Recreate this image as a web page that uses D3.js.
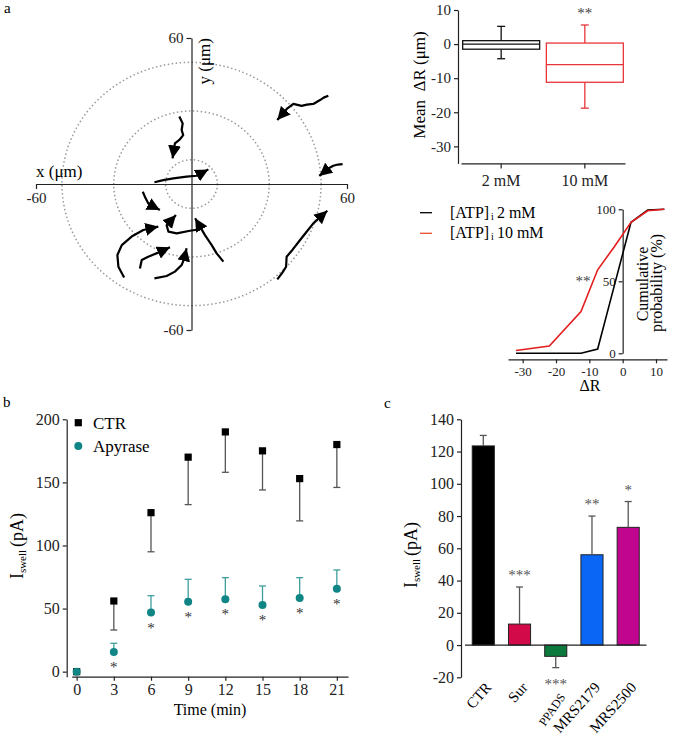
<!DOCTYPE html>
<html>
<head>
<meta charset="utf-8">
<script src="https://d3js.org/d3.v7.min.js"></script>
<style>
  body { margin: 0; background: #fff; }
  svg { font-family: "Liberation Serif", "Times New Roman", serif; }
  .axis path, .axis line { stroke: #222; stroke-width: 1.2; }
  .axis text { fill: #222; font-family: "Liberation Serif", serif; }
</style>
</head>
<body>
<div id="chart"></div>
<script>
// ---- panel a: cell tracks (x, y in µm), last point is the arrow tip ----
const tracks = [
  [[52.8,36.3],[51,35.5],[49.6,34.5],[47.0,32.9],[44.5,32.6],[42.5,32.1],[39.3,32.9],[37.0,31.1],[33.1,26.3]],
  [[58.3,8.2],[56.5,8.0],[54.7,7.5],[52.8,6.4],[49.3,3.3]],
  [[33.1,-39.2],[35,-36.5],[36.5,-34.0],[36.7,-29.9],[39,-27],[41.9,-23.0],[44.5,-19.5],[47.0,-16.2],[52.4,-11.0]],
  [[-4.7,27.7],[-3.4,24.9],[-3.8,22.2],[-3.2,20.1],[-4.7,18.1],[-6.4,16.7],[-7.3,10.5]],
  [[-14.3,0.7],[-10.9,1.6],[-7.0,2.3],[-1.9,3.0],[2.0,3.4],[6.5,6.0]],
  [[-18.8,-3.2],[-17.7,-5.9],[-16.7,-7.9],[-14.7,-9.3],[-12.2,-10.7]],
  [[12.3,-31.9],[9.7,-28.5],[7.8,-25.1],[5.2,-21.0],[1.4,-14.1]],
  [[3.3,-18.6],[-0.6,-19.2],[-5.7,-20.3],[-8.9,-19.6],[-9.6,-16.9],[-6.0,-12.7]],
  [[-26.0,-38.4],[-28.2,-34.0],[-28.6,-29.2],[-26.9,-25.1],[-23.1,-21.6],[-18.6,-18.9],[-12.8,-17.5]],
  [[-19.9,-34.7],[-19.2,-31.2],[-16.7,-29.9],[-12.8,-28.2],[-8.3,-26.0]],
  [[-14.3,-38.8],[-9.6,-37.8],[-6.4,-36.0],[-3.8,-33.3],[-2.8,-30.6],[-1.9,-26.4]]
];
const rings = [10, 30, 50];

// ---- panel a: box plot of mean ΔR ----
const boxGroups = ["2 mM", "10 mM"];
const boxLow = [-4.3, -18.8];
const boxQ1 = [-1.5, -11.2];
const boxMedian = [0, -6];
const boxQ3 = [1.0, 0.3];
const boxHigh = [5.2, 5.6];
const boxColors = ["#111", "#e8353a"];

// ---- panel a: cumulative distribution ----
const cumBins = [-32, -22, -12.5, -7.5, -2.5, 2.5, 7.5, 12.5];
const cum2mM = [0, 0, 0, 3, 47, 91, 99.5, 100];
const cum10mM = [2, 5, 29, 58, 74, 91, 99, 100];

// ---- panel b: Iswell over time ----
const times = [0, 3, 6, 9, 12, 15, 18, 21];
const ctrMean = [0, 56, 126, 170, 190, 175, 153, 180];
const ctrSem = [0, 23, 31, 37.6, 32, 31, 33.5, 34];
const apyMean = [0, 15.6, 46.8, 55.5, 57.4, 52.8, 58.4, 65.8];
const apySem = [0, 6.9, 13.4, 17.7, 17.1, 15.1, 16.1, 14.8];

// ---- panel c: blockers ----
const drugs = ["CTR", "Sur", "PPADS", "MRS2179", "MRS2500"];
const drugMean = [123.5, 13, -7, 56, 73];
const drugSem = [6.5, 23, 7, 24, 16];
const drugStars = ["", "***", "***", "**", "*"];
const drugColors = ["#000000", "#d20a4a", "#0d7a3d", "#0a66f5", "#c1058e"];

const teal = "#108585";
const tealErr = "#3f9e9e";

const svg = d3.select("#chart").append("svg")
  .attr("width", 675).attr("height", 736);

svg.append("defs").append("marker")
  .attr("id", "arrow")
  .attr("markerUnits", "userSpaceOnUse")
  .attr("markerWidth", 15).attr("markerHeight", 14)
  .attr("refX", 13).attr("refY", 6.5)
  .attr("orient", "auto")
  .append("path").attr("d", "M0,0 L13,6.5 L0,13 z").attr("fill", "#000");

function panelLabel(t, x, y) {
  svg.append("text").attr("x", x).attr("y", y).attr("font-size", 15).text(t);
}
panelLabel("a", 4, 13);
panelLabel("b", 3, 407);
panelLabel("c", 384, 408);

// ================= panel a: polar tracks =================
const xP = d3.scaleLinear().domain([-60, 60]).range([36, 347]);
const yP = d3.scaleLinear().domain([-60, 60]).range([330, 38]);

const gPolar = svg.append("g");
gPolar.selectAll("ellipse").data(rings).join("ellipse")
  .attr("cx", xP(0)).attr("cy", yP(0))
  .attr("rx", d => xP(d) - xP(0)).attr("ry", d => yP(0) - yP(d))
  .attr("fill", "none").attr("stroke", "#999")
  .attr("stroke-width", 1.5).attr("stroke-dasharray", "1.5,2.5");

gPolar.append("g").attr("class", "axis")
  .attr("transform", `translate(0,${yP(0)})`)
  .call(d3.axisBottom(xP).tickValues([-60, 60]).tickSize(5).tickSizeOuter(0).tickFormat(d => String(d)))
  .selectAll("text").attr("font-size", 15);
gPolar.append("g").attr("class", "axis")
  .attr("transform", `translate(${xP(0)},0)`)
  .call(d3.axisLeft(yP).tickValues([-60, 60]).tickSize(5).tickSizeOuter(0).tickFormat(d => String(d)))
  .selectAll("text").attr("font-size", 15);

gPolar.append("text").attr("x", 36).attr("y", 177).attr("font-size", 17).text("x (μm)");
gPolar.append("text").attr("transform", `translate(210,38) rotate(-90)`)
  .attr("text-anchor", "end").attr("font-size", 17).text("y (μm)");

const trackLine = d3.line().x(d => xP(d[0])).y(d => yP(d[1]));
gPolar.selectAll("path.track").data(tracks).join("path")
  .attr("class", "track")
  .attr("d", trackLine)
  .attr("fill", "none").attr("stroke", "#000").attr("stroke-width", 2.2)
  .attr("stroke-linejoin", "round")
  .attr("marker-end", "url(#arrow)");

// ================= panel a: box plot =================
const xB = d3.scaleBand().domain(boxGroups).range([461, 625]).paddingInner(0.08).paddingOuter(0.02);
const yB = d3.scaleLinear().domain([-35, 10]).range([163.4, 10]);

const gBox = svg.append("g");
gBox.append("g").attr("class", "axis")
  .attr("transform", "translate(458,0)")
  .call(d3.axisLeft(yB).tickValues([10, 0, -10, -20, -30]).tickSize(4).tickSizeOuter(0).tickFormat(d => String(d)))
  .selectAll("text").attr("font-size", 15);
gBox.append("g").attr("class", "axis")
  .attr("transform", `translate(0,${yB(-35)})`)
  .call(d3.axisBottom(xB).tickSize(5).tickSizeOuter(0))
  .selectAll("text").attr("font-size", 16).attr("dy", "0.9em");

boxGroups.forEach((g, i) => {
  const x0 = xB(g), w = xB.bandwidth(), cx = x0 + w / 2, c = boxColors[i];
  const gg = gBox.append("g").attr("stroke", c).attr("stroke-width", 1.3).attr("fill", "none");
  gg.append("rect").attr("x", x0).attr("y", yB(boxQ3[i]))
    .attr("width", w).attr("height", yB(boxQ1[i]) - yB(boxQ3[i]));
  gg.append("line").attr("x1", x0).attr("x2", x0 + w).attr("y1", yB(boxMedian[i])).attr("y2", yB(boxMedian[i]));
  gg.append("line").attr("x1", cx).attr("x2", cx).attr("y1", yB(boxQ3[i])).attr("y2", yB(boxHigh[i]));
  gg.append("line").attr("x1", cx).attr("x2", cx).attr("y1", yB(boxQ1[i])).attr("y2", yB(boxLow[i]));
  gg.append("line").attr("x1", cx - 4).attr("x2", cx + 4).attr("y1", yB(boxHigh[i])).attr("y2", yB(boxHigh[i]));
  gg.append("line").attr("x1", cx - 4).attr("x2", cx + 4).attr("y1", yB(boxLow[i])).attr("y2", yB(boxLow[i]));
});
gBox.append("text").attr("x", xB("10 mM") + xB.bandwidth() / 2).attr("y", 18)
  .attr("text-anchor", "middle").attr("font-size", 15).attr("fill", "#444").text("**");
gBox.append("text").attr("transform", "translate(425,85) rotate(-90)")
  .attr("text-anchor", "middle").attr("font-size", 17).text("Mean\u00a0 ΔR (μm)");

// ================= panel a: cumulative =================
const xC = d3.scaleLinear().domain([-34.4, 13.3]).range([508, 667]);
const yC = d3.scaleLinear().domain([0, 100]).range([353.3, 209.3]);

const gCum = svg.append("g");
gCum.append("g").attr("class", "axis")
  .attr("transform", `translate(0,359.3)`)
  .call(d3.axisBottom(xC).tickValues([-30, -20, -10, 0, 10]).tickSize(4).tickSizeOuter(0).tickFormat(d => String(d)))
  .selectAll("text").attr("font-size", 13);
gCum.append("g").attr("class", "axis")
  .attr("transform", `translate(${xC(0)},0)`)
  .call(d3.axisLeft(yC).tickValues([0, 50, 100]).tickSize(4).tickSizeOuter(0))
  .selectAll("text").attr("font-size", 13);

const cumLine = d3.line().x((d, i) => xC(cumBins[i])).y(d => yC(d));
gCum.append("path").attr("d", cumLine(cum2mM)).attr("fill", "none").attr("stroke", "#000").attr("stroke-width", 1.6);
gCum.append("path").attr("d", cumLine(cum10mM)).attr("fill", "none").attr("stroke", "#e41e1e").attr("stroke-width", 1.6);
gCum.append("text").attr("x", 583).attr("y", 286).attr("text-anchor", "middle")
  .attr("font-size", 15).attr("fill", "#444").text("**");
gCum.append("text").attr("x", 590).attr("y", 391).attr("text-anchor", "middle").attr("font-size", 16).text("ΔR");
gCum.append("text").attr("transform", "translate(648,284) rotate(-90)")
  .attr("text-anchor", "middle").attr("font-size", 16).text("Cumulative");
gCum.append("text").attr("transform", "translate(662,283) rotate(-90)")
  .attr("text-anchor", "middle").attr("font-size", 16).text("probability (%)");

const legendA = [["2 mM", "#000", 212.7], ["10 mM", "#e8502a", 233.3]];
legendA.forEach(([lab, col, y]) => {
  gCum.append("line").attr("x1", 420).attr("x2", 432).attr("y1", y).attr("y2", y)
    .attr("stroke", col).attr("stroke-width", 1.3);
  const t = gCum.append("text").attr("x", 450).attr("y", y + 5).attr("font-size", 16);
  t.append("tspan").text("[ATP]");
  t.append("tspan").attr("font-size", 10).attr("dy", 2).attr("dx", 2).text("i");
  t.append("tspan").attr("dy", -2).attr("dx", 3).text(lab);
});

// ================= panel b =================
const xT = d3.scaleLinear().domain([-0.4, 21.9]).range([71.7, 348]);
const yI = d3.scaleLinear().domain([-4, 200]).range([676.7, 419.3]);

const gB = svg.append("g");
gB.append("g").attr("class", "axis")
  .attr("transform", "translate(66.7,0)")
  .call(d3.axisLeft(yI).tickValues([0, 50, 100, 150, 200]).tickSize(4).tickSizeOuter(0))
  .selectAll("text").attr("font-size", 16);
gB.append("g").attr("class", "axis")
  .attr("transform", `translate(0,${yI(-4)})`)
  .call(d3.axisBottom(xT).tickValues(times).tickSize(4).tickSizeOuter(0))
  .selectAll("text").attr("font-size", 16);
gB.append("text").attr("x", 210).attr("y", 715).attr("text-anchor", "middle").attr("font-size", 16).text("Time (min)");

function swellLabel(g, x, y) {
  const t = g.append("text").attr("transform", `translate(${x},${y}) rotate(-90)`)
    .attr("text-anchor", "middle").attr("font-size", 18);
  t.append("tspan").text("I");
  t.append("tspan").attr("font-size", 11).attr("dy", 3).text("swell");
  t.append("tspan").attr("dy", -3).attr("dx", 3).text("(pA)");
}
swellLabel(gB, 23, 546);

// error bars: CTR downwards, apyrase upwards
times.forEach((t, i) => {
  if (ctrSem[i] > 0) {
    const x = xT(t), y0 = yI(ctrMean[i]), y1 = yI(ctrMean[i] - ctrSem[i]);
    gB.append("line").attr("x1", x).attr("x2", x).attr("y1", y0).attr("y2", y1).attr("stroke", "#555").attr("stroke-width", 1.3);
    gB.append("line").attr("x1", x - 3.5).attr("x2", x + 3.5).attr("y1", y1).attr("y2", y1).attr("stroke", "#555").attr("stroke-width", 1.3);
  }
  if (apySem[i] > 0) {
    const x = xT(t), y0 = yI(apyMean[i]), y1 = yI(apyMean[i] + apySem[i]);
    gB.append("line").attr("x1", x).attr("x2", x).attr("y1", y0).attr("y2", y1).attr("stroke", tealErr).attr("stroke-width", 1.3);
    gB.append("line").attr("x1", x - 3.5).attr("x2", x + 3.5).attr("y1", y1).attr("y2", y1).attr("stroke", tealErr).attr("stroke-width", 1.3);
  }
});
gB.selectAll("rect.ctr").data(times).join("rect").attr("class", "ctr")
  .attr("x", d => xT(d) - 3.6).attr("y", (d, i) => yI(ctrMean[i]) - 3.6)
  .attr("width", 7.2).attr("height", 7.2).attr("fill", "#000");
gB.selectAll("circle.apy").data(times).join("circle").attr("class", "apy")
  .attr("cx", d => xT(d)).attr("cy", (d, i) => yI(apyMean[i])).attr("r", 4)
  .attr("fill", teal);
gB.selectAll("text.star").data(times.slice(1)).join("text").attr("class", "star")
  .attr("x", d => xT(d)).attr("y", (d, i) => yI(apyMean[i + 1]) + 20)
  .attr("text-anchor", "middle").attr("font-size", 15).attr("fill", "#333").text("*");

// legend b
gB.append("rect").attr("x", 74.7).attr("y", 419.1).attr("width", 7.2).attr("height", 7.2).attr("fill", "#000");
gB.append("text").attr("x", 93).attr("y", 428.5).attr("font-size", 17).text("CTR");
gB.append("circle").attr("cx", 78.3).attr("cy", 446).attr("r", 4).attr("fill", teal);
gB.append("text").attr("x", 93).attr("y", 451.5).attr("font-size", 17).text("Apyrase");

// ================= panel c =================
const xD = d3.scaleBand().domain(drugs).range([465, 646.5]).paddingInner(0.39).paddingOuter(0.2);
const yD = d3.scaleLinear().domain([-20, 140]).range([677.3, 419.3]);

const gC = svg.append("g");
gC.append("g").attr("class", "axis")
  .attr("transform", "translate(461,0)")
  .call(d3.axisLeft(yD).tickValues(d3.range(-20, 141, 20)).tickSize(4).tickSizeOuter(0).tickFormat(d => String(d)))
  .selectAll("text").attr("font-size", 16);

gC.selectAll("rect.bar").data(drugs).join("rect").attr("class", "bar")
  .attr("x", d => xD(d)).attr("width", xD.bandwidth())
  .attr("y", (d, i) => yD(Math.max(0, drugMean[i])))
  .attr("height", (d, i) => Math.abs(yD(drugMean[i]) - yD(0)))
  .attr("fill", (d, i) => drugColors[i]).attr("stroke", "#222").attr("stroke-width", 1);

drugs.forEach((d, i) => {
  const x = xD(d) + xD.bandwidth() / 2;
  const sign = drugMean[i] < 0 ? -1 : 1;
  const y0 = yD(drugMean[i]), y1 = yD(drugMean[i] + sign * drugSem[i]);
  gC.append("line").attr("x1", x).attr("x2", x).attr("y1", y0).attr("y2", y1).attr("stroke", "#555").attr("stroke-width", 1.3);
  gC.append("line").attr("x1", x - 3.5).attr("x2", x + 3.5).attr("y1", y1).attr("y2", y1).attr("stroke", "#555").attr("stroke-width", 1.3);
  if (drugStars[i]) {
    gC.append("text").attr("x", x).attr("y", sign > 0 ? y1 - 7 : y1 + 21)
      .attr("text-anchor", "middle").attr("font-size", 15).attr("fill", "#555").text(drugStars[i]);
  }
});

gC.append("line").attr("x1", 465).attr("x2", 646.5).attr("y1", yD(0)).attr("y2", yD(0))
  .attr("stroke", "#222").attr("stroke-width", 1.2);

gC.selectAll("text.drug").data(drugs).join("text").attr("class", "drug")
  .attr("transform", d => d === "PPADS"
    ? `translate(${xD(d) + xD.bandwidth() / 2 + 10},697) rotate(-55)`
    : `translate(${xD(d) + xD.bandwidth() / 2 + 9},688) rotate(-48)`)
  .attr("text-anchor", "end")
  .attr("font-size", d => d === "PPADS" ? 12 : 15)
  .text(d => d);

swellLabel(gC, 417, 555);
</script>
</body>
</html>
